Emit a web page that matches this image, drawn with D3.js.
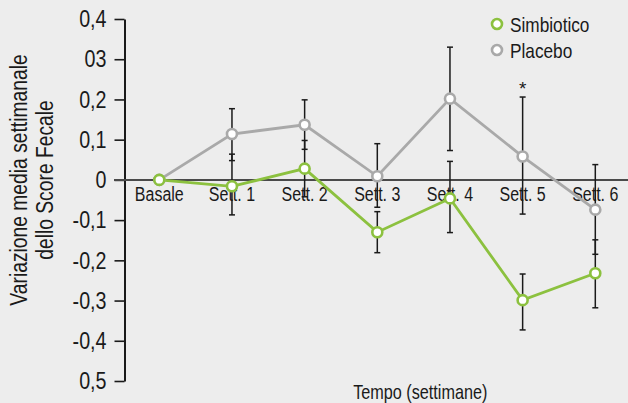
<!DOCTYPE html>
<html>
<head>
<meta charset="utf-8">
<script src="https://cdn.jsdelivr.net/npm/d3@7/dist/d3.min.js"></script>
<style>
  html, body { margin: 0; padding: 0; background: #ededed; }
  svg { display: block; font-family: "Liberation Sans", Arial, sans-serif; }
</style>
</head>
<body>
<svg id="chart" width="628" height="403"></svg>
<script>
// Weekly mean change of the faecal score, per group
const categories = ["Basale", "Sett. 1", "Sett. 2", "Sett. 3", "Sett. 4", "Sett. 5", "Sett. 6"];
const simbiotico = [0, -0.016, 0.028, -0.130, -0.046, -0.299, -0.232];
const placebo    = [0, 0.114, 0.137, 0.009, 0.202, 0.058, -0.074];

// Error bar bounds (upper / lower), none at baseline
const simbioticoHi = [null, 0.064, 0.098, -0.079, 0.046, -0.234, -0.149];
const simbioticoLo = [null, -0.087, -0.042, -0.181, -0.131, -0.373, -0.318];
const placeboHi    = [null, 0.177, 0.199, 0.090, 0.330, 0.206, 0.038];
const placeboLo    = [null, 0.048, 0.076, -0.068, 0.073, -0.085, -0.185];

// Significance marks above the placebo bars
const significance = ["", "", "", "", "", "*", ""];

const yTickValues = [0.4, 0.3, 0.2, 0.1, 0, -0.1, -0.2, -0.3, -0.4, -0.5];
const yTickLabels = ["0,4", "03", "0,2", "0,1", "0", "-0,1", "-0,2", "-0,3", "-0,4", "0,5"];

const seriesNames = ["Simbiotico", "Placebo"];
const colors = { Simbiotico: "#8cc13f", Placebo: "#a9a9a9" };

const series = [
  { name: "Placebo", values: placebo, hi: placeboHi, lo: placeboLo },
  { name: "Simbiotico", values: simbiotico, hi: simbioticoHi, lo: simbioticoLo }
];

// Narrow the glyphs horizontally to get a condensed face
const NARROW = 0.82;
function condense(sel) {
  sel.each(function () {
    const w = this.getComputedTextLength();
    if (w > 0) {
      this.setAttribute("textLength", (w * NARROW).toFixed(2));
      this.setAttribute("lengthAdjust", "spacingAndGlyphs");
    }
  });
}

const svg = d3.select("#chart");

const x = d3.scalePoint().domain(categories).range([159.3, 595.3]);
const y = d3.scaleLinear().domain([-0.5, 0.4]).range([381, 19]);

// Y axis
const yAxis = d3.axisLeft(y)
  .tickValues(yTickValues)
  .tickFormat((d, i) => yTickLabels[i])
  .tickSize(10)
  .tickSizeOuter(0)
  .tickPadding(8);

const gy = svg.append("g").attr("transform", "translate(124.5,0)").call(yAxis);
gy.select(".domain").attr("stroke", "#1a1a1a").attr("stroke-width", 2);
gy.selectAll(".tick line").attr("stroke", "#1a1a1a").attr("stroke-width", 1.6);
gy.selectAll(".tick text")
  .attr("fill", "#1a1a1a")
  .style("font-size", "24px")
  .style("font-family", "\"Liberation Sans\", Arial, sans-serif")
  .call(condense);

// Zero reference line across the plot
svg.append("line")
  .attr("x1", 114).attr("x2", 628)
  .attr("y1", y(0)).attr("y2", y(0))
  .attr("stroke", "#4a4a4a").attr("stroke-width", 2);

// Category labels sitting under the zero line
svg.append("g").selectAll("text").data(categories).join("text")
  .attr("x", d => x(d))
  .attr("y", y(0) + 21.5)
  .attr("text-anchor", "middle")
  .attr("fill", "#1a1a1a")
  .style("font-size", "19.5px")
  .text(d => d)
  .call(condense);

// Error bars
const capHalf = 3;
series.forEach(s => {
  const g = svg.append("g");
  categories.forEach((c, i) => {
    if (s.hi[i] == null) return;
    const cx = x(c);
    g.append("line").attr("x1", cx).attr("x2", cx)
      .attr("y1", y(s.hi[i])).attr("y2", y(s.lo[i]))
      .attr("stroke", "#1a1a1a").attr("stroke-width", 1.5);
    [s.hi[i], s.lo[i]].forEach(v => {
      g.append("line").attr("x1", cx - capHalf).attr("x2", cx + capHalf)
        .attr("y1", y(v)).attr("y2", y(v))
        .attr("stroke", "#1a1a1a").attr("stroke-width", 1.5);
    });
  });
});

// Significance asterisks
svg.append("g").selectAll("text").data(significance).join("text")
  .attr("x", (d, i) => x(categories[i]))
  .attr("y", (d, i) => placeboHi[i] == null ? 0 : y(placeboHi[i]) - 2)
  .attr("text-anchor", "middle")
  .attr("fill", "#1a1a1a")
  .style("font-size", "19px")
  .text(d => d);

// Lines and markers
const line = d3.line().x((d, i) => x(categories[i])).y(d => y(d));
series.forEach(s => {
  svg.append("path")
    .datum(s.values)
    .attr("d", line)
    .attr("fill", "none")
    .attr("stroke", colors[s.name])
    .attr("stroke-width", 2.8);
});
series.forEach(s => {
  svg.append("g").selectAll("circle").data(s.values).join("circle")
    .attr("cx", (d, i) => x(categories[i]))
    .attr("cy", d => y(d))
    .attr("r", 5)
    .attr("fill", "#ffffff")
    .attr("stroke", colors[s.name])
    .attr("stroke-width", 2.6);
});

// Legend
const legend = svg.append("g").selectAll("g").data(seriesNames).join("g")
  .attr("transform", (d, i) => `translate(497,${24 + i * 26})`);
legend.append("circle")
  .attr("r", 5)
  .attr("fill", "#ffffff")
  .attr("stroke", d => colors[d])
  .attr("stroke-width", 2.6);
legend.append("text")
  .attr("x", 13)
  .attr("y", 7.5)
  .attr("fill", "#1a1a1a")
  .style("font-size", "21px")
  .text(d => d)
  .call(condense);

// Axis titles
const yTitle = svg.append("text")
  .attr("transform", "translate(0,180) rotate(-90)")
  .attr("text-anchor", "middle")
  .attr("fill", "#1a1a1a")
  .style("font-size", "23.5px");
yTitle.append("tspan").attr("x", 0).attr("y", 26.7).text("Variazione media settimanale");
yTitle.append("tspan").attr("x", 0).attr("y", 53.3).text("dello Score Fecale");
yTitle.selectAll("tspan").call(condense);

svg.append("text")
  .attr("x", 420.3)
  .attr("y", 399)
  .attr("text-anchor", "middle")
  .attr("fill", "#1a1a1a")
  .style("font-size", "19.8px")
  .text("Tempo (settimane)")
  .call(condense);
</script>
</body>
</html>
